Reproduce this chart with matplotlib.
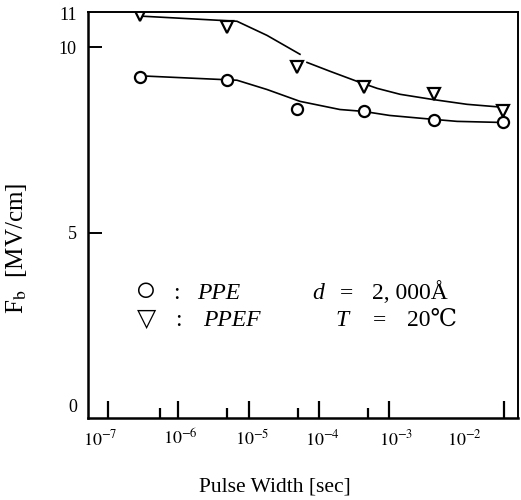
import numpy as np
import matplotlib
matplotlib.use("Agg")
import matplotlib.pyplot as plt
import matplotlib.transforms as mtransforms

plt.rcParams['font.family'] = ['Liberation Serif', 'DejaVu Serif', 'DejaVu Sans']
plt.rcParams['mathtext.fontset'] = 'stix'

# measured points
pulse = [2.85e-7, 5.0e-6, 4.9e-5, 4.45e-4, 4.35e-3, 4.2e-2]
ppe = [9.19, 9.11, 8.34, 8.27, 8.03, 7.97]
ppef = [10.86, 10.54, 9.47, 8.93, 8.74, 8.28]

# hand drawn curves (nan = break in the printed line)
ppef_cx = [2.85e-7, 6.85e-6, 1.83e-5, 5.4e-5, np.nan, 6.8e-5, 1.45e-4, 3.5e-4,
           6.8e-4, 1.44e-3, 4.2e-3, 1.29e-2, 4.2e-2]
ppef_cy = [10.84, 10.70, 10.32, 9.81, np.nan, 9.59, 9.35, 9.08,
           8.89, 8.73, 8.59, 8.46, 8.38]
ppe_cx = [3.6e-7, 6.85e-6, 1.83e-5, 5.4e-5, 2.0e-4, 4.3e-4, 1.02e-3, 3.0e-3,
          9.3e-3, 4.2e-2]
ppe_cy = [9.22, 9.11, 8.86, 8.54, 8.32, 8.27, 8.16, 8.08, 8.0, 7.97]

xticks = [1e-7, 1e-6, 1e-5, 1e-4, 1e-3, 1e-2, 4.3e-2]
xlabels = ['$10^{-7}$', '$10^{-6}$', '$10^{-5}$', '$10^{-4}$', '$10^{-3}$', '$10^{-2}$', '']
xminor = [5.5e-7, 5e-6, 5e-5, 5e-4]
yticks = [0.35, 5, 10, 10.9]
ylabels = ['0', '5', '10', '11']

fig = plt.figure(figsize=(5.21, 5.0), dpi=100)
ax = fig.add_axes([88/521, 82/500, 430/521, 406/500])

ax.plot(ppef_cx, ppef_cy, color='black', lw=1.2)
ax.plot(ppe_cx, ppe_cy, color='black', lw=1.2)
ax.plot(pulse, ppe, 'o', ms=8, mfc='white', mec='black', mew=1.6, ls='none')
ax.plot(pulse, ppef, 'v', ms=9, mfc='white', mec='black', mew=1.6, ls='none')

ax.set_xscale('log')
ax.set_xlim(10**-7.285, 10**-1.164)
ax.set_ylim(0, 10.95)

ax.set_xticks(xticks)
ax.set_xticklabels(xlabels, fontsize=13)
ax.set_xticks(xminor, minor=True)
ax.set_xticklabels([''] * len(xminor), minor=True)
ax.tick_params(axis='x', which='major', direction='in', length=12, width=1.6, pad=8)
ax.tick_params(axis='x', which='minor', direction='in', length=7, width=1.6)
ax.xaxis.get_major_ticks()[5].tick1line.set_visible(False)

# printed labels sit a little off their ticks
shifts = [-8, 2, 4, 4, 7, 5, 0]
for lab, dx in zip(ax.get_xticklabels(), shifts):
    lab.set_transform(lab.get_transform() +
                      mtransforms.ScaledTranslation(dx / 100, 0, fig.dpi_scale_trans))

ax.set_yticks(yticks)
ax.set_yticklabels(ylabels, fontsize=13)
ax.yaxis.set_minor_locator(matplotlib.ticker.NullLocator())
ax.tick_params(axis='y', direction='in', length=10, width=1.4, pad=8)
ax.yaxis.get_major_ticks()[0].tick1line.set_visible(False)
ax.yaxis.get_major_ticks()[3].tick1line.set_visible(False)

for s in ax.spines.values():
    s.set_linewidth(1.4)
ax.spines['left'].set_linewidth(1.8)
ax.spines['bottom'].set_linewidth(1.8)

fig.text(275/521, 1 - 487/500, 'Pulse Width [sec]', fontsize=15.5, ha='center', va='center')
fig.text(17/521, 1 - 248/500, 'F$_\\mathrm{b}$  [MV/cm]', fontsize=18, rotation=90,
         ha='center', va='center')

# key written inside the plot
fs = 17
y1 = 1 - 299/500
y2 = 1 - 326/500
fig.text(145/521, y1 - 0.004, '○', fontsize=26, ha='center', va='baseline')
fig.text(176/521, y1, ':', fontsize=fs, ha='center', va='baseline')
fig.text(197/521, y1, 'PPE', fontsize=fs, style='italic', va='baseline')
fig.text(312/521, y1, 'd', fontsize=fs, style='italic', va='baseline')
fig.text(347/521, y1, '=', fontsize=fs, ha='center', va='baseline')
fig.text(372/521, y1, '2, 000Å', fontsize=fs, va='baseline')
fig.text(147/521, y2, '▽', fontsize=18, ha='center', va='baseline')
fig.text(178/521, y2, ':', fontsize=fs, ha='center', va='baseline')
fig.text(203/521, y2, 'PPEF', fontsize=fs, style='italic', va='baseline')
fig.text(335/521, y2, 'T', fontsize=fs, style='italic', va='baseline')
fig.text(380/521, y2, '=', fontsize=fs, ha='center', va='baseline')
fig.text(407/521, y2, '20℃', fontsize=fs, va='baseline')

fig.savefig('out.png', dpi=100)
